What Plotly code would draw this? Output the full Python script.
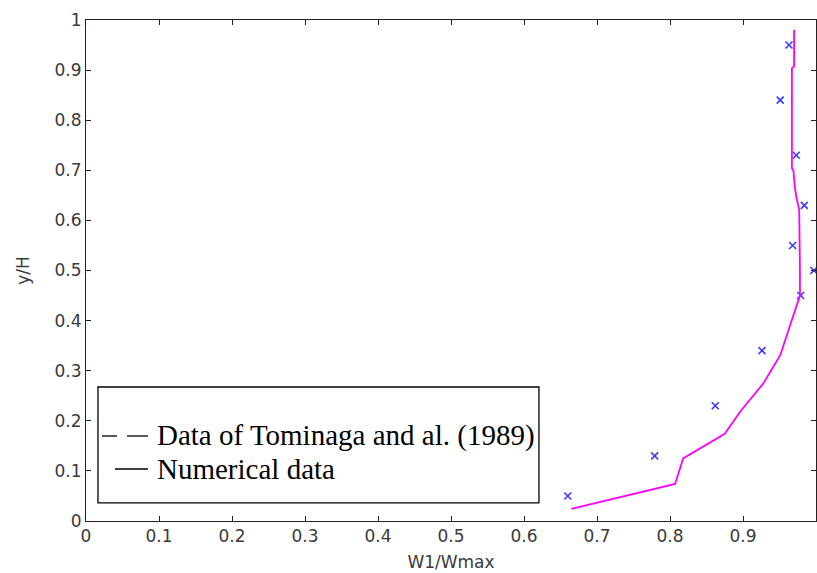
import plotly.graph_objects as go

# Numerical data (magenta line)
num_x = [0.665, 0.807, 0.818, 0.875, 0.896, 0.928, 0.951, 0.969, 0.978, 0.978, 0.977,
         0.973, 0.971, 0.969, 0.967, 0.967, 0.970, 0.970]
num_y = [0.024, 0.074, 0.125, 0.174, 0.218, 0.275, 0.331, 0.408, 0.45, 0.50, 0.621,
         0.647, 0.667, 0.700, 0.704, 0.904, 0.907, 0.980]

# Experimental data of Tominaga (blue crosses)
exp_x = [0.660, 0.779, 0.862, 0.926, 0.979, 0.997, 0.968, 0.984, 0.973, 0.951, 0.963]
exp_y = [0.05, 0.13, 0.23, 0.34, 0.45, 0.50, 0.55, 0.63, 0.73, 0.84, 0.95]

tick_vals = [0, 0.1, 0.2, 0.3, 0.4, 0.5, 0.6, 0.7, 0.8, 0.9, 1]
tick_text = ["0", "0.1", "0.2", "0.3", "0.4", "0.5", "0.6", "0.7", "0.8", "0.9", "1"]

legend_names = ["Data of Tominaga and al. (1989)", "Numerical data"]

fig = go.Figure()

fig.add_trace(go.Scatter(
    x=exp_x, y=exp_y, mode="markers", showlegend=False,
    marker=dict(symbol="x-thin", size=7, line=dict(color="#3a3aff", width=1.6)),
))
fig.add_trace(go.Scatter(
    x=num_x, y=num_y, mode="lines", showlegend=False,
    line=dict(color="#ff00ff", width=1.8),
))

sans = "DejaVu Sans, Arial"
axis_common = dict(
    range=[0, 1], tickvals=tick_vals, ticktext=tick_text,
    ticks="inside", ticklen=5, tickcolor="#222", tickwidth=1,
    showline=True, linecolor="#222", linewidth=1, mirror="ticks",
    showgrid=False, zeroline=False,
    tickfont=dict(family=sans, size=17, color="#3a3a3a"),
)

# manual legend box (as in the reference: black line samples)
legend_font = dict(family="Liberation Serif, Times New Roman", size=29, color="black")
shapes = [
    dict(type="rect", xref="paper", yref="paper",
         x0=0.0164, x1=0.6205, y0=0.036, y1=0.2675,
         line=dict(color="black", width=1.3), fillcolor="rgba(0,0,0,0)"),
    dict(type="line", xref="paper", yref="paper", x0=0.0219, x1=0.0425, y0=0.1697, y1=0.1697,
         line=dict(color="black", width=1.3)),
    dict(type="line", xref="paper", yref="paper", x0=0.0562, x1=0.0849, y0=0.1697, y1=0.1697,
         line=dict(color="black", width=1.3)),
    dict(type="line", xref="paper", yref="paper", x0=0.0397, x1=0.0849, y0=0.1038, y1=0.1038,
         line=dict(color="black", width=1.3)),
]
annotations = [
    dict(text=legend_names[0], xref="paper", yref="paper", x=0.0945, y=0.1697,
         xanchor="left", yanchor="middle", showarrow=False, font=legend_font),
    dict(text=legend_names[1], xref="paper", yref="paper", x=0.0945, y=0.1038,
         xanchor="left", yanchor="middle", showarrow=False, font=legend_font),
]

fig.update_layout(
    width=817, height=573,
    margin=dict(l=86, r=1, t=20, b=52),
    plot_bgcolor="white", paper_bgcolor="white",
    showlegend=False,
    xaxis=dict(**axis_common,
               title=dict(text="W1/Wmax", standoff=10,
                          font=dict(family=sans, size=17, color="#3a3a3a"))),
    yaxis=dict(**axis_common,
               title=dict(text="y/H", standoff=20,
                          font=dict(family=sans, size=17, color="#3a3a3a"))),
    shapes=shapes,
    annotations=annotations,
)

fig.write_html("out.html")
